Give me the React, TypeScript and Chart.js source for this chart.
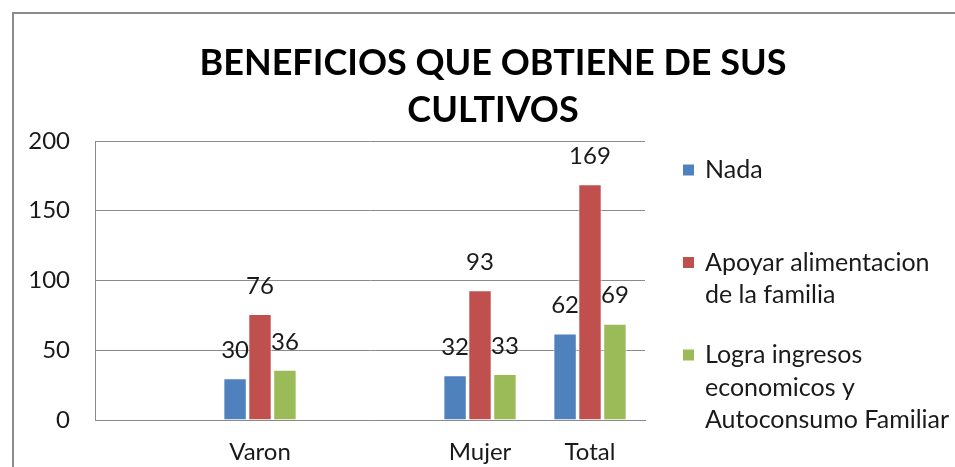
import React, { useEffect, useRef } from "react";
import { Chart, registerables } from "chart.js";

Chart.register(...registerables);

const titleLines = ["BENEFICIOS QUE OBTIENE DE SUS", "CULTIVOS"];
const categories = ["", "Varon", "", "Mujer", "Total"];
const seriesNames = ["Nada", "Apoyar alimentacion de la familia", "Logra ingresos economicos y Autoconsumo Familiar"];
const legendLines = [["Nada"], ["Apoyar alimentacion", "de la familia"], ["Logra ingresos", "economicos y", "Autoconsumo Familiar"]];
const nada = [null, 30, null, 32, 62];
const apoyar = [null, 76, null, 93, 169];
const logra = [null, 36, null, 33, 69];
const yMin = 0;
const yMax = 200;
const yStep = 50;
const colors = ["#4F81BD", "#C0504D", "#9BBB59"];

const FONT = "Lato, 'Open Sans', sans-serif";
const GRID = "#8a8a8a";

const decor = {
  id: "decor",
  beforeDraw(chart: any) {
    const ctx = chart.ctx;
    ctx.save();
    ctx.fillStyle = "#ffffff";
    ctx.fillRect(0, 0, chart.width, chart.height);
    ctx.strokeStyle = "#8c8c8c";
    ctx.lineWidth = 2;
    ctx.beginPath();
    ctx.moveTo(13, chart.height);
    ctx.lineTo(13, 13);
    ctx.lineTo(chart.width, 13);
    ctx.stroke();
    ctx.restore();
  },
  afterDatasetsDraw(chart: any) {
    const ctx = chart.ctx;
    ctx.save();
    ctx.font = `24px ${FONT}`;
    ctx.fillStyle = "#1a1a1a";
    ctx.textAlign = "center";
    ctx.textBaseline = "middle";
    chart.data.datasets.forEach((ds: any, di: number) => {
      const meta = chart.getDatasetMeta(di);
      meta.data.forEach((el: any, i: number) => {
        const v = ds.data[i];
        if (v === null || v === undefined) return;
        ctx.fillText(String(v), el.x, el.y - 28);
      });
    });
    ctx.restore();
  },
  afterDraw(chart: any) {
    const ctx = chart.ctx;
    const area = chart.chartArea;
    ctx.save();
    // title
    ctx.font = `bold 36px ${FONT}`;
    ctx.fillStyle = "#000000";
    ctx.textAlign = "center";
    ctx.textBaseline = "middle";
    titleLines.forEach((t, i) => ctx.fillText(t, 493, 63 + i * 47));
    // legend
    ctx.font = `25px ${FONT}`;
    ctx.textAlign = "left";
    legendLines.forEach((lines, i) => {
      const y0 = 170 + i * 92.5;
      ctx.fillStyle = colors[i];
      ctx.fillRect(area.right + 38, y0 - 5.5, 11, 11);
      ctx.fillStyle = "#1a1a1a";
      lines.forEach((l, j) => ctx.fillText(l, area.right + 60, y0 + j * 32.5));
    });
    ctx.restore();
  },
};

export default function App() {
  const ref = useRef<HTMLCanvasElement>(null);
  useEffect(() => {
    document.body.style.margin = "0";
    const chart = new Chart(ref.current!, {
      type: "bar",
      data: {
        labels: categories,
        datasets: [nada, apoyar, logra].map((d, i) => ({
          label: seriesNames[i],
          data: d,
          backgroundColor: colors[i],
          borderColor: "rgba(255,255,255,0.9)",
          borderWidth: 1,
          categoryPercentage: 0.68,
          barPercentage: 0.94,
        })),
      },
      options: {
        responsive: false,
        animation: false,
        layout: { padding: { top: 141, right: 310, left: 0, bottom: 0 } },
        plugins: {
          legend: { display: false },
          title: { display: false },
          tooltip: { enabled: false },
        },
        scales: {
          x: {
            afterFit: (s: any) => {
              s.height = 47;
            },
            grid: { display: true, color: "rgba(0,0,0,0)", drawTicks: false },
            border: { display: true, color: GRID, width: 1 },
            ticks: { font: { family: FONT, size: 24 }, color: "#1a1a1a", padding: 18 },
          },
          y: {
            min: yMin,
            max: yMax,
            afterFit: (s: any) => {
              s.width = 95;
            },
            grid: { color: GRID, drawTicks: false, lineWidth: 1 },
            border: { display: true, color: GRID, width: 1 },
            ticks: { stepSize: yStep, font: { family: FONT, size: 24 }, color: "#1a1a1a", padding: 25 },
          },
        },
      },
      plugins: [decor],
    });
    return () => chart.destroy();
  }, []);
  return (
    <canvas
      ref={ref}
      width={955}
      height={467}
      style={{ display: "block", position: "absolute", left: 0, top: 0, width: 955, height: 467 }}
    />
  );
}
